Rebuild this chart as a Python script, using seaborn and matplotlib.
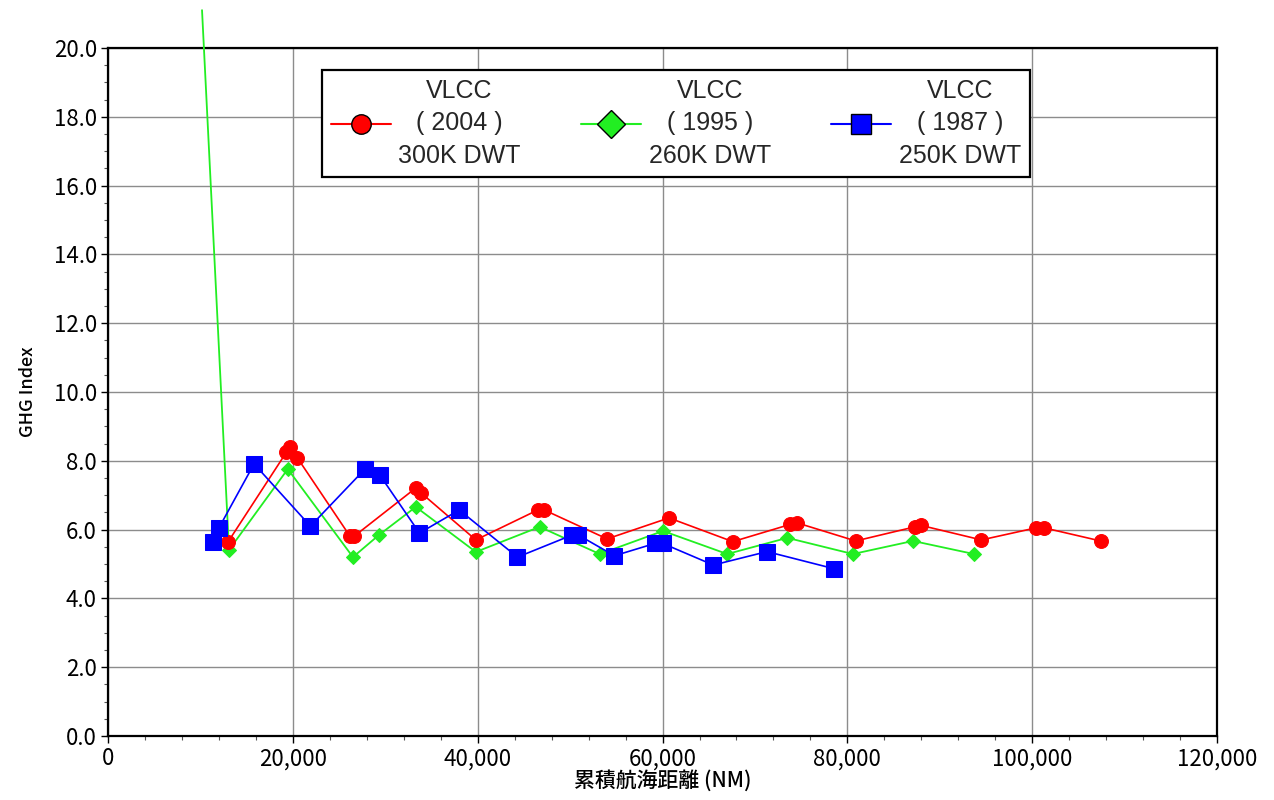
import numpy as np
import pandas as pd
import matplotlib
matplotlib.use("Agg")
import matplotlib.pyplot as plt
import seaborn as sns
from matplotlib.lines import Line2D
from matplotlib.ticker import MultipleLocator, FuncFormatter

# ---- data ----
red_x = [12980, 19300, 19700, 20500, 26200, 26600, 33300, 33900, 39800, 46500, 47200,
         54000, 60700, 67600, 73800, 74500, 80900, 87300, 88000, 94500, 100400, 101300, 107400]
red_y = [5.64, 8.25, 8.40, 8.08, 5.80, 5.80, 7.21, 7.06, 5.70, 6.57, 6.57,
         5.73, 6.34, 5.65, 6.15, 6.20, 5.67, 6.08, 6.12, 5.70, 6.05, 6.05, 5.67]

green_x = [10170, 13090, 19450, 26500, 29300, 33300, 39800, 46700, 53200, 60050,
           67000, 73500, 80600, 87100, 93700]
green_y = [21.1, 5.41, 7.76, 5.20, 5.84, 6.66, 5.35, 6.08, 5.29, 5.96,
           5.29, 5.76, 5.29, 5.67, 5.29]

blue_x = [11400, 12000, 15800, 21900, 27800, 29400, 33700, 38000, 44300, 50200, 50900,
          54800, 59200, 60000, 65500, 71300, 78600]
blue_y = [5.64, 6.05, 7.91, 6.10, 7.76, 7.59, 5.90, 6.57, 5.20, 5.84, 5.84,
          5.24, 5.60, 5.60, 4.97, 5.36, 4.86]

labels = ["VLCC\n( 2004 )\n300K DWT", "VLCC\n( 1995 )\n260K DWT", "VLCC\n( 1987 )\n250K DWT"]
x_label = "累積航海距離 (NM)"
y_label = "GHG Index"

# ---- style ----
sns.set_theme(style="white")
plt.rcParams['font.family'] = ['Noto Sans CJK JP', 'DejaVu Sans']

fig = plt.figure(figsize=(12.74, 8.0), dpi=100)
ax = fig.add_axes([0.0848, 0.08, 0.8705, 0.86])

df_r = pd.DataFrame({"x": red_x, "y": red_y})
df_g = pd.DataFrame({"x": green_x, "y": green_y})
df_b = pd.DataFrame({"x": blue_x, "y": blue_y})

sns.lineplot(data=df_g, x="x", y="y", ax=ax, sort=False, estimator=None,
             color="#22ee22", lw=1.3, marker="D", markersize=7.5,
             markeredgecolor="#22ee22", markevery=list(range(1, len(green_x))),
             clip_on=False, zorder=3)
sns.lineplot(data=df_r, x="x", y="y", ax=ax, sort=False, estimator=None,
             color="#ff0000", lw=1.2, marker="o", markersize=10,
             markeredgecolor="#ff0000", zorder=4)
sns.lineplot(data=df_b, x="x", y="y", ax=ax, sort=False, estimator=None,
             color="#0000ff", lw=1.2, marker="s", markersize=11,
             markeredgecolor="#0000ff", zorder=5)

ax.set_xlim(0, 120000)
ax.set_ylim(0, 20)
ax.xaxis.set_major_locator(MultipleLocator(20000))
ax.xaxis.set_minor_locator(MultipleLocator(4000))
ax.yaxis.set_major_locator(MultipleLocator(2))
ax.yaxis.set_minor_locator(MultipleLocator(0.5))
ax.xaxis.set_major_formatter(FuncFormatter(lambda v, p: f"{int(v):,}"))
ax.yaxis.set_major_formatter(FuncFormatter(lambda v, p: f"{v:.1f}"))

ax.grid(True, which="major", color="#8c8c8c", lw=1.0)
ax.set_axisbelow(True)
for s in ax.spines.values():
    s.set_color("black")
    s.set_linewidth(1.6)
ax.tick_params(axis="both", which="major", direction="out", length=5, width=1,
               colors="black", labelsize=16, pad=3, bottom=True, left=True)
ax.tick_params(axis="both", which="minor", direction="out", length=3, width=0.8,
               colors="#555555", bottom=True, left=True)
ax.set_facecolor("white")

ax.set_xlabel(x_label, fontsize=15, labelpad=0, color="black", fontweight="medium")
ax.set_ylabel(y_label, fontsize=13, labelpad=12, color="black", fontweight="medium")

handles = [
    Line2D([], [], color="#ff0000", lw=1.5, marker="o", markersize=14,
           markerfacecolor="#ff0000", markeredgecolor="black"),
    Line2D([], [], color="#22ee22", lw=1.5, marker="D", markersize=14,
           markerfacecolor="#22ee22", markeredgecolor="black"),
    Line2D([], [], color="#0000ff", lw=1.5, marker="s", markersize=14,
           markerfacecolor="#0000ff", markeredgecolor="black"),
]
leg = ax.legend(handles, labels, ncol=3, loc="upper left",
                bbox_to_anchor=(0.193, 0.815, 0.638, 0.153), mode="expand",
                borderaxespad=0,
                fancybox=False, framealpha=1, edgecolor="black",
                handlelength=2.4, handletextpad=0.3, borderpad=0.35,
                columnspacing=2.5,
                prop={"family": ["Liberation Sans Narrow", "Liberation Sans"], "size": 18})
leg.get_frame().set_linewidth(1.6)
for t in leg.get_texts():
    t.set_multialignment("center")
    t.set_linespacing(1.45)

fig.savefig("out.png", dpi=100, facecolor="white")
